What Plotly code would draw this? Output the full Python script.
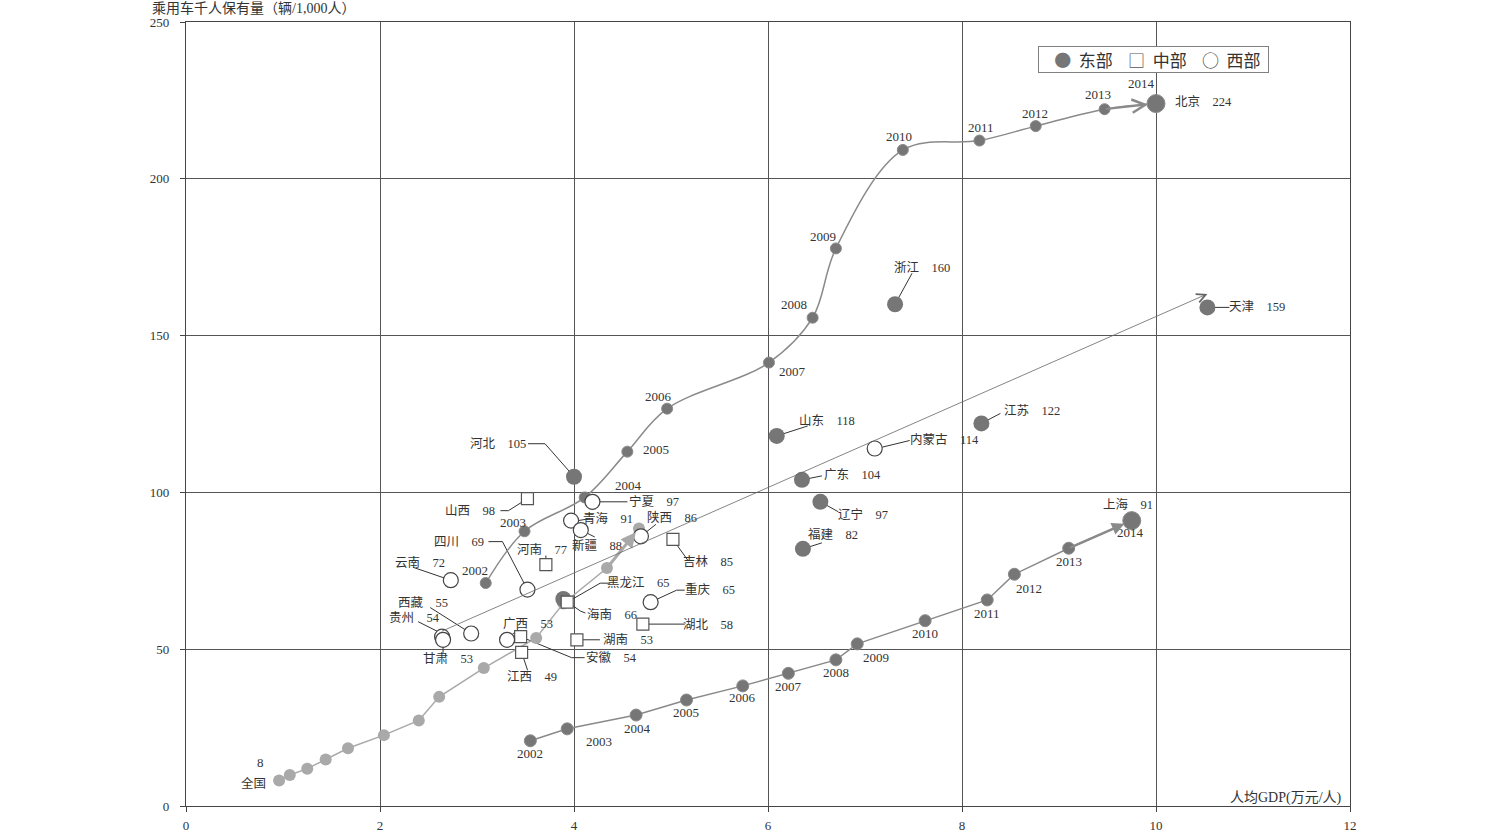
import plotly.graph_objects as go

# ---------------- data ----------------
YEARS = list(range(2002, 2015))

BJ_GDP = [3.09, 3.49, 4.11, 4.55, 4.96, 6.01, 6.46, 6.70, 7.39, 8.18, 8.76, 9.47, 10.00]
BJ_CARS = [71.1, 87.6, 98.4, 113.0, 126.7, 141.4, 155.7, 177.8, 209.2, 212.2, 216.8, 222.2, 224]

SH_GDP = [3.55, 3.93, 4.64, 5.16, 5.74, 6.21, 6.70, 6.92, 7.62, 8.26, 8.54, 9.10, 9.75]
SH_CARS = [20.8, 24.6, 29.0, 33.8, 38.3, 42.3, 46.6, 51.7, 59.1, 65.7, 73.9, 82.2, 91]

NAT_GDP = [0.96, 1.07, 1.25, 1.44, 1.67, 2.04, 2.40, 2.61, 3.07, 3.61, 3.89, 4.34, 4.67]
NAT_CARS = [8.1, 9.9, 11.9, 14.8, 18.4, 22.6, 27.3, 34.8, 44.0, 53.6, 64.6, 75.9, 88.5]

EAST_NAMES = ["河北", "山东", "广东", "辽宁", "福建", "浙江", "江苏", "天津", "海南"]
EAST_GDP = [4.00, 6.09, 6.35, 6.54, 6.36, 7.31, 8.20, 10.53, 3.89]
EAST_CARS = [105, 118, 104, 97, 82, 160, 122, 159, 66]

MID_NAMES = ["山西", "河南", "吉林", "黑龙江", "湖北", "湖南", "安徽", "江西"]
MID_GDP = [3.52, 3.71, 5.02, 3.93, 4.71, 4.03, 3.45, 3.46]
MID_CARS = [98, 77, 85, 65, 58, 53, 54, 49]

WEST_NAMES = ["宁夏", "青海", "新疆", "陕西", "四川", "云南", "重庆", "西藏", "贵州", "甘肃", "广西", "内蒙古"]
WEST_GDP = [4.19, 3.97, 4.07, 4.69, 3.52, 2.73, 4.79, 2.94, 2.64, 2.65, 3.31, 7.10]
WEST_CARS = [97, 91, 88, 86, 69, 72, 65, 55, 54, 53, 53, 114]

TREND_FROM = (2.62, 55.5)
TREND_TO = (10.53, 163.3)

LEGEND_NAMES = ["东部", "中部", "西部"]
Y_TITLE = "乘用车千人保有量（辆/1,000人）"
X_TITLE = "人均GDP(万元/人)"

# ---------------- label placement (pixel offsets, screen y down) ----------------
LABEL_POS = {
    "河北": (-76, -33, [(-46, -33), (-29, -33), (0, 0)]),
    "山东": (50, -15, [(0, 0), (31, -10)]),
    "广东": (51, -5, [(0, 0), (20, -4)]),
    "辽宁": (43, 13, [(0, 0), (18, 10)]),
    "福建": (30, -14, [(0, 0), (19, -6)]),
    "浙江": (27, -37, [(0, 0), (17, -31)]),
    "江苏": (51, -13, [(0, 0), (19, -10)]),
    "天津": (50, 0, [(0, 0), (22, 0)]),
    "海南": (49, 15, [(0, 0), (17, 12), (22, 14)]),
    "山西": (-57, 12, [(-27, 12), (-19, 12), (0, 0)]),
    "河南": (-4, -15, [(0, -9), (0, 0)]),
    "吉林": (35, 23, [(0, 0), (15, 21), (20, 21)]),
    "黑龙江": (71, -19, [(0, 0), (33, -19), (43, -19)]),
    "湖北": (65, 0, [(0, 0), (42, 0)]),
    "湖南": (51, 0, [(0, 0), (23, 0)]),
    "安徽": (91, 21, [(0, 0), (51, 21), (64, 21)]),
    "江西": (10, 25, [(0, 0), (6, 18)]),
    "宁夏": (62, 0, [(0, 0), (35, 0)]),
    "青海": (37, -2, [(7, 0), (19, -2)]),
    "新疆": (16, 15, [(0, 0), (14, 7)]),
    "陕西": (31, -19, [(0, 0), (15, -12)]),
    "四川": (-68, -48, [(-39, -48), (-25, -48), (0, 0)]),
    "云南": (-31, -18, [(-38, -13), (0, 0)]),
    "重庆": (59, -13, [(0, 0), (26, -12), (34, -12)]),
    "西藏": (-48, -31, [(-41, -26), (0, 0)]),
    "贵州": (-28, -19, [(-24, -15), (0, -3)]),
    "甘肃": (5, 19, [(0, 3), (0, 13)]),
    "广西": (21, -16, [(0, 0), (11, -11)]),
    "内蒙古": (70, -9, [(2, 0), (35, -8)]),
}
BJ_YEAR_POS = [(-11, -13), (-12, -9), (44, -12), (29, -2), (-9, -12), (24, 9), (-19, -13),
               (-13, -12), (-4, -13), (2, -13), (-1, -13), (-7, -15), (-15, -20)]
SH_YEAR_POS = [(0, 13), (32, 13), (1, 13), (-1, 12), (0, 12), (0, 13), (0, 13),
               (19, 14), (0, 13), (0, 14), (15, 14), (0, 13), (-1, 12)]

SERIF = "Liberation Serif, 'Noto Sans CJK SC', serif"
SANS = "'Noto Sans CJK SC', sans-serif"
TXT = "#333333"
EAST_C = "#767676"
NAT_C = "#a9a9a9"
LINE_C = "#8a8a8a"
SP = "\u3000"
NB = "\u00a0"

fig = go.Figure()

# national series
fig.add_trace(go.Scatter(x=NAT_GDP, y=NAT_CARS, mode="lines+markers", showlegend=False,
                         line=dict(color=NAT_C, width=1.5),
                         marker=dict(color=NAT_C, size=12, opacity=1), hoverinfo="skip"))
# Shanghai series
fig.add_trace(go.Scatter(x=SH_GDP, y=SH_CARS, mode="lines+markers", showlegend=False,
                         line=dict(color=LINE_C, width=1.5),
                         marker=dict(color=EAST_C, opacity=1,
                                     size=[12] * (len(SH_GDP) - 1) + [18]),
                         hoverinfo="skip"))
# Beijing series
fig.add_trace(go.Scatter(x=BJ_GDP, y=BJ_CARS, mode="lines+markers", showlegend=False,
                         line=dict(color=LINE_C, width=1.5, shape="spline", smoothing=1.0),
                         marker=dict(color=EAST_C, opacity=1,
                                     size=[11] * (len(BJ_GDP) - 1) + [18]),
                         hoverinfo="skip"))
# provinces
fig.add_trace(go.Scatter(x=EAST_GDP, y=EAST_CARS, mode="markers", name=LEGEND_NAMES[0],
                         showlegend=False,
                         marker=dict(color=EAST_C, size=16, symbol="circle", opacity=1)))
fig.add_trace(go.Scatter(x=MID_GDP, y=MID_CARS, mode="markers", name=LEGEND_NAMES[1],
                         showlegend=False,
                         marker=dict(color="white", size=12, symbol="square", opacity=1,
                                     line=dict(color="#555555", width=1.2))))
fig.add_trace(go.Scatter(x=WEST_GDP, y=WEST_CARS, mode="markers", name=LEGEND_NAMES[2],
                         showlegend=False,
                         marker=dict(color="white", size=15, symbol="circle", opacity=1,
                                     line=dict(color="#444444", width=1.2))))

annotations = []
shapes = []


def label(x, y, text, dx, dy, size=12.5):
    annotations.append(dict(x=x, y=y, xref="x", yref="y", text=text, showarrow=False,
                            xshift=dx, yshift=-dy, xanchor="center", yanchor="middle",
                            font=dict(family=SERIF, size=size, color=TXT)))


def leader(x, y, pts):
    path = " ".join(("M" if i == 0 else "L") + f" {px} {-py}" for i, (px, py) in enumerate(pts))
    shapes.append(dict(type="path", xref="x", yref="y", xsizemode="pixel", ysizemode="pixel",
                       xanchor=x, yanchor=y, path=path, layer="between",
                       line=dict(color="#333333", width=1)))


for names, xs, ys in [(EAST_NAMES, EAST_GDP, EAST_CARS), (MID_NAMES, MID_GDP, MID_CARS),
                      (WEST_NAMES, WEST_GDP, WEST_CARS)]:
    for n, x, y in zip(names, xs, ys):
        dx, dy, pts = LABEL_POS[n]
        label(x, y, f"{n}{SP}{y}", dx, dy)
        leader(x, y, pts)

for yr, x, y, (dx, dy) in zip(YEARS, BJ_GDP, BJ_CARS, BJ_YEAR_POS):
    label(x, y, str(yr), dx, dy, 13)
for yr, x, y, (dx, dy) in zip(YEARS, SH_GDP, SH_CARS, SH_YEAR_POS):
    label(x, y, str(yr), dx, dy, 13)

label(BJ_GDP[-1], BJ_CARS[-1], f"北京{SP}{BJ_CARS[-1]}", 47, -2)
label(SH_GDP[-1], SH_CARS[-1], f"上海{SP}{SH_CARS[-1]}", -4, -16)
label(NAT_GDP[0], NAT_CARS[0], f"{round(NAT_CARS[0])}", -19, -18, 13)
label(NAT_GDP[0], NAT_CARS[0], "全国", -26, 3)


# arrows
def arrow(xf, yf, xt, yt, width, head, color, size=1.0, standoff=0):
    annotations.append(dict(x=xt, y=yt, ax=xf, ay=yf, xref="x", yref="y", axref="x", ayref="y",
                            text="", showarrow=True, arrowhead=head, arrowsize=size,
                            arrowwidth=width, arrowcolor=color, standoff=standoff))


arrow(BJ_GDP[-2], BJ_CARS[-2], BJ_GDP[-1], BJ_CARS[-1], 2, 5, LINE_C, 1.3, 8)
arrow(SH_GDP[-2], SH_CARS[-2], SH_GDP[-1], SH_CARS[-1], 2.5, 2, LINE_C, 1.0, 8)
arrow(NAT_GDP[-2], NAT_CARS[-2], NAT_GDP[-1], NAT_CARS[-1], 3, 2, NAT_C, 1.0, 5)
arrow(TREND_FROM[0], TREND_FROM[1], TREND_TO[0], TREND_TO[1], 0.8, 5, "#666666", 2.2, 0)

# legend box (text legend with symbol glyphs)
legend_syms = [("●", EAST_C), ("□", "#555555"), ("○", "#444444")]
legend_text = (NB * 4).join(
    f"<span style='color:{c}'>{s}</span>{NB * 2}{n}" for (s, c), n in zip(legend_syms, LEGEND_NAMES))
annotations.append(dict(x=0.732, y=0.9694, xref="paper", yref="paper",
                        text=NB * 4 + legend_text + NB * 2, showarrow=False,
                        xanchor="left", yanchor="top", bordercolor="#808080", borderwidth=1,
                        borderpad=0, bgcolor="white",
                        font=dict(family=SANS, size=17, color=TXT)))

# axis titles
annotations.append(dict(x=-0.031, y=1.018, xref="paper", yref="paper", text=Y_TITLE,
                        showarrow=False, xanchor="left", yanchor="middle",
                        font=dict(family=SERIF, size=14, color=TXT)))
annotations.append(dict(x=12, y=0, xref="x", yref="y", text=X_TITLE, showarrow=False,
                        xanchor="right", yanchor="middle", xshift=-6, yshift=8,
                        font=dict(family=SERIF, size=14, color=TXT)))

axis_common = dict(showgrid=True, gridcolor="#555555", gridwidth=1, showline=True,
                   linecolor="#444444", linewidth=1.2, mirror=True, ticks="outside",
                   ticklen=5, tickcolor="#444444", zeroline=False, automargin=False,
                   tickfont=dict(family=SERIF, size=13, color=TXT))

fig.update_layout(
    width=1493, height=832,
    margin=dict(l=186, r=143, t=22, b=26, autoexpand=False),
    paper_bgcolor="white", plot_bgcolor="white",
    showlegend=False,
    xaxis=dict(range=[0, 12], dtick=2, ticklabelstandoff=2, **axis_common),
    yaxis=dict(range=[0, 250], dtick=50, ticklabelstandoff=8, **axis_common),
    annotations=annotations,
    shapes=shapes,
    hovermode=False,
)

fig.write_html("out.html", config={"displayModeBar": False},
               post_script="document.body.style.margin='0px';")
